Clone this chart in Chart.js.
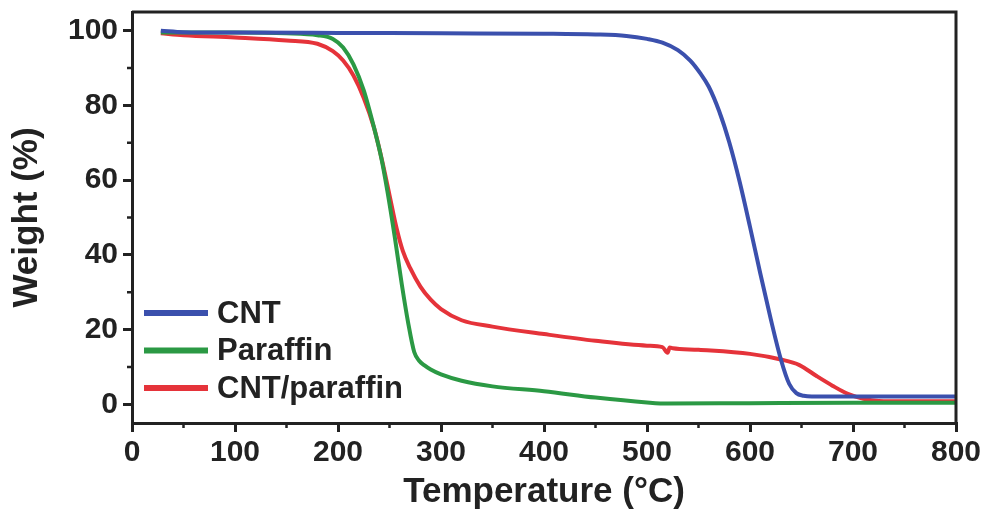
<!DOCTYPE html>
<html>
<head>
<meta charset="utf-8">
<script src="https://cdn.jsdelivr.net/npm/chart.js@4"></script>
<style>
  body { margin: 0; background: #fff; }
  #wrap { width: 988px; height: 521px; }
</style>
</head>
<body>
<div id="wrap"><canvas id="tgaChart"></canvas></div>
<script>
// ===== DATA =====
const seriesNames = ["CNT", "Paraffin", "CNT/paraffin"];
const seriesColors = ["#3b50ad", "#2b9944", "#e5333a"];

const cntTemp = [28, 50, 100, 200, 300, 400, 450, 480, 500, 515, 530, 542, 552, 560, 570, 580, 590, 600, 610, 620, 630, 638, 645, 652, 660, 700, 750, 800];
const cntWeight = [100, 99.6, 99.5, 99.4, 99.3, 99.2, 99, 98.6, 97.8, 96.8, 94.8, 92, 88.5, 85, 78.5, 70, 59.5, 47.5, 35, 23, 12, 5.5, 3, 2.3, 2.1, 2.1, 2.1, 2.1];

const paraffinTemp = [28, 100, 150, 180, 195, 205, 215, 225, 235, 242, 248, 255, 262, 268, 274, 279, 284, 290, 300, 320, 350, 400, 450, 500, 520, 600, 700, 800];
const paraffinWeight = [99.5, 99.5, 99.3, 98.8, 97.8, 95.5, 91, 84, 74, 66, 57, 45, 32, 22, 14, 11.6, 10.4, 9.3, 8, 6.3, 4.8, 3.5, 1.8, 0.5, 0.2, 0.3, 0.4, 0.4];

const blendTemp = [28, 50, 100, 150, 180, 195, 205, 215, 225, 235, 243, 250, 257, 263, 270, 280, 290, 300, 320, 350, 400, 450, 500, 515, 520, 522, 525, 550, 600, 630, 648, 665, 680, 695, 710, 725, 750, 800];
const blendWeight = [99.3, 98.8, 98.2, 97.4, 96.5, 94.5, 92, 88, 82, 74, 65, 56, 47, 41, 36.5, 31.5, 28, 25.5, 22.5, 20.8, 18.8, 17, 15.7, 15.3, 13.8, 15.2, 15, 14.6, 13.5, 12, 10.5, 7.5, 5, 2.8, 1.5, 0.9, 0.8, 0.8];

const xTicks = [0, 100, 200, 300, 400, 500, 600, 700, 800];
const yTicks = [0, 20, 40, 60, 80, 100];
const xMinorTicks = [50, 150, 250, 350, 450, 550, 650, 750];
const yMinorTicks = [10, 30, 50, 70, 90];

const FONT = "'Liberation Sans', Arial, Helvetica, sans-serif";
const INK = "#222";

function toPoints(xs, ys) {
    return xs.map((x, i) => ({ x: x, y: ys[i] }));
}

// ===== FRAME + MINOR TICKS =====
const framePlugin = {
    id: "frame",
    afterDraw(chart) {
        const { ctx, chartArea: a, scales } = chart;
        ctx.save();
        ctx.strokeStyle = INK;
        ctx.lineWidth = 3;
        ctx.beginPath();
        ctx.moveTo(a.left, a.top);
        ctx.lineTo(a.right, a.top);
        ctx.lineTo(a.right, a.bottom);
        ctx.stroke();

        ctx.lineWidth = 2.5;
        ctx.beginPath();
        xMinorTicks.forEach(v => {
            const px = scales.x.getPixelForValue(v);
            ctx.moveTo(px, a.bottom);
            ctx.lineTo(px, a.bottom + 5);
        });
        yMinorTicks.forEach(v => {
            const py = scales.y.getPixelForValue(v);
            ctx.moveTo(a.left, py);
            ctx.lineTo(a.left - 5, py);
        });
        ctx.stroke();
        ctx.restore();
    }
};

// ===== LEGEND INSIDE PLOT =====
const insideLegend = {
    id: "insideLegend",
    afterDraw(chart) {
        const { ctx, chartArea: a } = chart;
        ctx.save();
        ctx.font = "bold 31px " + FONT;
        ctx.textBaseline = "middle";
        chart.data.datasets.forEach((ds, i) => {
            const y = a.bottom - 110 + i * 37.5;
            ctx.strokeStyle = ds.borderColor;
            ctx.lineWidth = 6;
            ctx.beginPath();
            ctx.moveTo(a.left + 12, y);
            ctx.lineTo(a.left + 76, y);
            ctx.stroke();
            ctx.fillStyle = INK;
            ctx.fillText(ds.label, a.left + 85, y + 1);
        });
        ctx.restore();
    }
};

const dataSets = [
    toPoints(cntTemp, cntWeight),
    toPoints(paraffinTemp, paraffinWeight),
    toPoints(blendTemp, blendWeight)
];

new Chart(document.getElementById("tgaChart"), {
    type: "scatter",
    data: {
        datasets: seriesNames.map((name, i) => ({
            label: name,
            data: dataSets[i],
            showLine: true,
            borderColor: seriesColors[i],
            backgroundColor: seriesColors[i],
            borderWidth: 4,
            pointRadius: 0,
            cubicInterpolationMode: "monotone"
        }))
    },
    options: {
        responsive: true,
        maintainAspectRatio: false,
        animation: false,
        layout: { padding: { top: 12, right: 32, left: 0, bottom: 0 } },
        plugins: {
            legend: { display: false },
            tooltip: { enabled: false }
        },
        scales: {
            x: {
                type: "linear",
                min: 0,
                max: 800,
                afterBuildTicks: s => { s.ticks = xTicks.map(v => ({ value: v })); },
                afterFit: s => { s.height = 98; s.paddingLeft = 0; s.paddingRight = 0; },
                border: { display: true, color: INK, width: 3 },
                grid: { drawOnChartArea: false, drawTicks: true, tickLength: 9, lineWidth: 3, color: INK },
                ticks: { color: INK, padding: 3, maxRotation: 0, font: { family: FONT, size: 30, weight: "bold" } },
                title: {
                    display: true,
                    text: "Temperature (°C)",
                    color: INK,
                    padding: { top: 0, bottom: 8 },
                    font: { family: FONT, size: 35, weight: "bold" }
                }
            },
            y: {
                type: "linear",
                min: -5,
                max: 105,
                afterBuildTicks: s => { s.ticks = yTicks.map(v => ({ value: v })); },
                afterFit: s => { s.width = 132; s.paddingTop = 0; s.paddingBottom = 0; },
                border: { display: true, color: INK, width: 3 },
                grid: { drawOnChartArea: false, drawTicks: true, tickLength: 9, lineWidth: 3, color: INK },
                ticks: { color: INK, padding: 5, font: { family: FONT, size: 30, weight: "bold" } },
                title: {
                    display: true,
                    text: "Weight (%)",
                    color: INK,
                    padding: { top: 6, bottom: 0 },
                    font: { family: FONT, size: 35, weight: "bold" }
                }
            }
        }
    },
    plugins: [framePlugin, insideLegend]
});
</script>
</body>
</html>
